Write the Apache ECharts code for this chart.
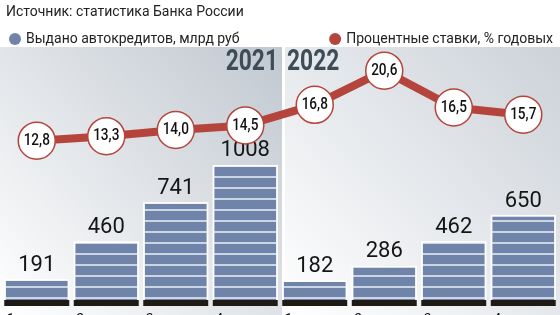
<!DOCTYPE html>
<html><head><meta charset="utf-8">
<script src="https://cdn.jsdelivr.net/npm/echarts@6/dist/echarts.min.js"></script>
<style>html,body{margin:0;padding:0;background:#fff}#c{width:560px;height:315px}</style>
</head><body><div id="c"></div>
<script>
const categories = ['1 кв. 2021', '2 кв. 2021', '3 кв. 2021', '4 кв. 2021', '1 кв. 2022', '2 кв. 2022', '3 кв. 2022', '4 кв. 2022'];
const quarterLabels = ['1 кв.', '2 кв.', '3 кв.', '4 кв.', '1 кв.', '2 кв.', '3 кв.', '4 кв.'];
const loansIssued = [191, 460, 741, 1008, 182, 286, 462, 650];
const interestRates = [12.8, 13.3, 14.0, 14.5, 16.8, 20.6, 16.5, 15.7];
const baseBand = [42, 42, 42, 42, 42, 42, 42, 42];
const yearLabels = ['2021', '2022'];
const sourceText = 'Источник: статистика Банка России';
const seriesNames = ['Выдано автокредитов, млрд руб', 'Процентные ставки, % годовых'];

const BLUE = '#6f84a8', RED = '#b5453c';
const chart = echarts.init(document.getElementById('c'), null, {renderer: 'canvas'});
chart.setOption({
  animation: false,
  backgroundColor: '#ffffff',
  graphic: [
    {type: 'rect', z: -10, silent: true, shape: {x: 0, y: 47, width: 282, height: 268},
     style: {fill: new echarts.graphic.LinearGradient(0, 1, 1, 0, [{offset: 0, color: '#ffffff'}, {offset: 1, color: '#c1c8d0'}])}},
    {type: 'rect', z: -10, silent: true, shape: {x: 285, y: 47, width: 275, height: 268},
     style: {fill: new echarts.graphic.LinearGradient(0, 1, 1, 0, [{offset: 0, color: '#ffffff'}, {offset: 1, color: '#ccd2d9'}])}},
    {type: 'text', z: 1, silent: true, x: 278, y: 47, scaleX: 0.76,
     style: {text: yearLabels[0], align: 'right', verticalAlign: 'top', fontFamily: 'Roboto', fontSize: 30, fontWeight: 'bold', fill: '#3e4c58'}},
    {type: 'text', z: 1, silent: true, x: 287, y: 47, scaleX: 0.76,
     style: {text: yearLabels[1], align: 'left', verticalAlign: 'top', fontFamily: 'Roboto', fontSize: 30, fontWeight: 'bold', fill: '#3e4c58'}}
  ],
  title: [
    {text: sourceText, left: 1, top: 0, textStyle: {fontFamily: 'Roboto', fontSize: 14, fontWeight: 'normal', color: '#222'}}
  ],
  legend: [
    {left: 4, top: 27, data: [seriesNames[0]], icon: 'circle', itemWidth: 12, itemHeight: 12,
     textStyle: {fontFamily: 'Roboto', fontSize: 14, color: '#222'}, itemStyle: {color: BLUE, decal: 'none', borderWidth: 0}},
    {right: 2, top: 27, data: [seriesNames[1]], icon: 'circle', itemWidth: 12, itemHeight: 12,
     textStyle: {fontFamily: 'Roboto', fontSize: 14, color: '#222'}, itemStyle: {color: RED, borderWidth: 0}, lineStyle: {width: 0}}
  ],
  grid: {left: 2, right: 2, top: 40, bottom: 9},
  xAxis: {type: 'category', data: categories, axisLine: {show: false}, axisTick: {show: false}, axisLabel: {show: false}},
  yAxis: [
    {type: 'value', min: 0, max: 1900, show: false},
    {type: 'value', min: -5.62, max: 24.02, show: false}
  ],
  series: [
    {name: seriesNames[0], type: 'bar', yAxisIndex: 0, data: loansIssued, barWidth: 65,
     itemStyle: {color: BLUE, borderColor: 'rgba(255,255,255,0.9)', borderWidth: 1.5,
       decal: {symbol: 'rect', symbolSize: 1, color: 'rgba(228,234,244,0.8)', dashArrayX: [1, 0], dashArrayY: [2, 9], rotation: 0}},
     label: {show: true, position: 'top', distance: 3, fontFamily: 'Roboto', fontSize: 22, color: '#151515'}},
    {name: 'band', type: 'bar', yAxisIndex: 0, data: baseBand, barWidth: 65, barGap: '-100%', z: 3, silent: true,
     itemStyle: {color: '#1f1a14'},
     label: {show: true, position: 'bottom', distance: 7, align: 'left', offset: [-30, 0],
       formatter: p => quarterLabels[p.dataIndex], fontFamily: 'Roboto', fontSize: 14, color: '#111'}},
    {name: seriesNames[1], type: 'line', yAxisIndex: 1, data: interestRates, z: 5,
     symbol: 'circle', symbolSize: 37,
     lineStyle: {color: RED, width: 8},
     itemStyle: {color: '#ffffff', borderColor: RED, borderWidth: 1.5}},
    {name: 'rateLabels', type: 'custom', yAxisIndex: 1, z: 10, silent: true,
     data: interestRates.map((v, i) => [i, v]),
     renderItem: (params, api) => {
       const p = api.coord([api.value(0), api.value(1)]);
       return {type: 'text', x: p[0], y: p[1], scaleX: 0.8,
         style: {text: api.value(1).toFixed(1).replace('.', ','), align: 'center', verticalAlign: 'middle',
           fontFamily: 'Roboto', fontSize: 17, fontWeight: 500, fill: '#111'}};
     }}
  ]
});
</script></body></html>
